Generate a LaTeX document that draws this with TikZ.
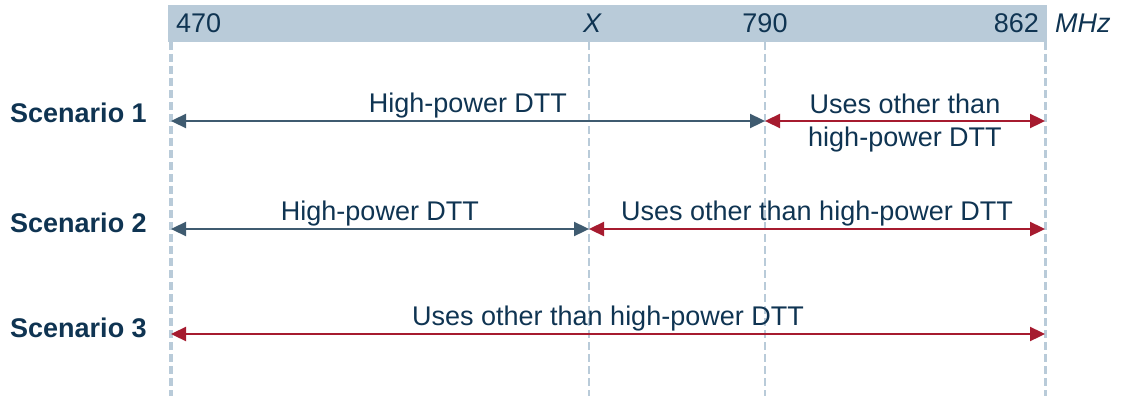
\documentclass[tikz,border=0pt]{standalone}
\usepackage{fontspec}
\setmainfont{Liberation Sans}
\usetikzlibrary{arrows.meta,positioning}

\definecolor{barblue}{HTML}{B9CBD9}
\definecolor{dttblue}{HTML}{3F5B70}
\definecolor{otherred}{HTML}{A61B2F}
\definecolor{textnavy}{HTML}{0F3452}

\begin{document}
\begin{tikzpicture}[x=1pt,y=-1pt,>={Triangle[length=15pt,width=14pt]},
        every node/.style={inner sep=0pt,text=textnavy,font=\fontsize{27}{33}\selectfont},
        scen node/.style={anchor=west,font=\bfseries\fontsize{27}{33}\selectfont},
        band label/.style={midway,anchor=base,yshift=9pt,align=center},
        guide line/.style={barblue,dash pattern=on 8pt off 4pt},
        dtt arrow/.style={<->,dttblue,line width=2.3pt},
        other arrow/.style={<->,otherred,line width=2.3pt}]

        \useasboundingbox (0,0) rectangle (1127,396);

        % frequency bar
        \fill[barblue] (168,5) rectangle (1047,42);
        \node[anchor=west] (n470) at (176,23) {470};
        \node (nX) at (592,23) {\itshape X};
        \node (n790) at (765,23) {790};
        \node[anchor=east] (n862) at (1039,23) {862};
        \node[anchor=west] (unit) [right=16pt of n862] {\itshape MHz};

        % guide lines
        \coordinate (t470) at (171,42);
        \coordinate (tX) at (589,42);
        \coordinate (t790) at (765,42);
        \coordinate (t862) at (1045,42);
        \coordinate (bottom) at (0,396);
        \draw[guide line,line width=3.5pt] (t470) -- (t470 |- bottom);
        \draw[guide line,line width=2.2pt] (tX) -- (tX |- bottom);
        \draw[guide line,line width=2.2pt] (t790) -- (t790 |- bottom);
        \draw[guide line,line width=3pt] (t862) -- (t862 |- bottom);

        % scenarios
        \coordinate (r1) at (0,121);
        \coordinate (r2) at (0,229);
        \coordinate (r3) at (0,334);
        \node[scen node] (s1) at (10,113) {Scenario 1};
        \node[scen node] (s2) at (10,223) {Scenario 2};
        \node[scen node] (s3) at (10,328) {Scenario 3};

        \path (t470 |- r1) edge[dtt arrow] node[band label] {High-power DTT} (t790 |- r1)
        (t790 |- r1) edge[other arrow] node[band label,anchor=center,yshift=-11pt] {Uses other than\\high-power DTT} (t862 |- r1)
        (t470 |- r2) edge[dtt arrow] node[band label] {High-power DTT} (tX |- r2)
        (tX |- r2) edge[other arrow] node[band label] {Uses other than high-power DTT} (t862 |- r2)
        (t470 |- r3) edge[other arrow] node[band label] {Uses other than high-power DTT} (t862 |- r3);
\end{tikzpicture}
\end{document}
